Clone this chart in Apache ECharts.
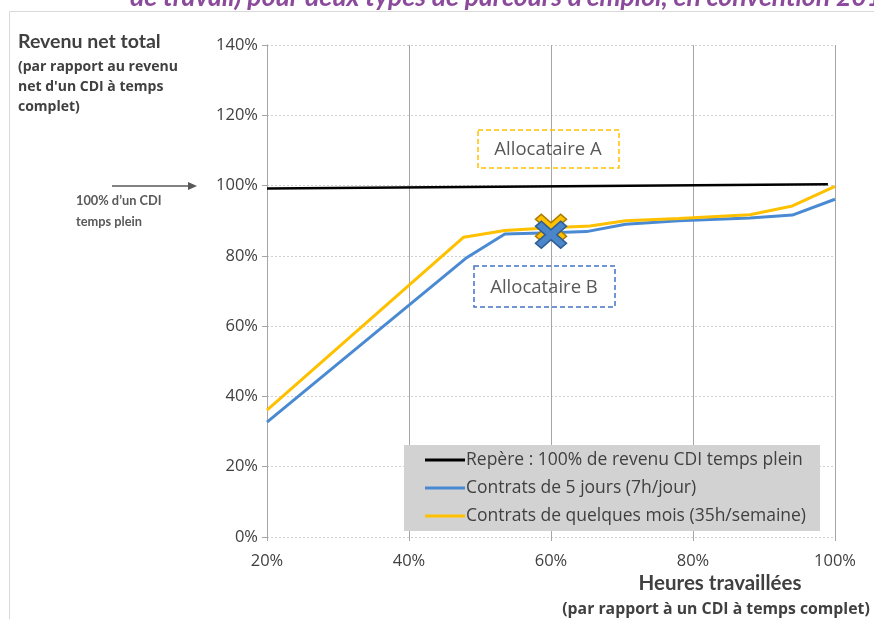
<!DOCTYPE html>
<html>
<head>
<meta charset="utf-8">
<script src="https://cdn.jsdelivr.net/npm/echarts@6/dist/echarts.min.js"></script>
<style>
  html, body { margin: 0; padding: 0; background: #fff; }
  #chart { width: 874px; height: 619px; }
</style>
</head>
<body>
<div id="chart"></div>
<script>
// Heures travaillées (% d'un CDI temps complet) et revenu net total (% du revenu CDI)
const seriesNames = [
  'Repère : 100% de revenu CDI temps plein',
  'Contrats de 5 jours (7h/jour)',
  'Contrats de quelques mois (35h/semaine)'
];
const repereHours = [20, 99];
const repereIncome = [99.2, 100.4];
const joursHours = [20, 48, 53.5, 60, 65, 70.5, 78, 88, 94, 100];
const joursIncome = [32.7, 79.3, 86.2, 86.6, 86.9, 89.0, 90.0, 90.8, 91.6, 96.1];
const moisHours = [20, 47.7, 53.5, 60, 65.5, 70.5, 78, 88, 94, 100];
const moisIncome = [36.1, 85.3, 87.2, 88.0, 88.5, 90.0, 90.6, 91.7, 94.2, 99.8];
// Allocataires A et B (60% d'heures travaillées)
const allocataireHours = [60, 60];
const allocataireIncome = [88.0, 86.0];
const xTicks = [20, 40, 60, 80, 100];
const yTicks = [0, 20, 40, 60, 80, 100, 120, 140];

const pair = (xs, ys) => xs.map((x, i) => [x, ys[i]]);
const SANS = '"Open Sans", sans-serif';
const NARROW = 'Lato, sans-serif';
const GREY = '#404040';
const CROSS = 'path://M0,3 L3,0 L8,5 L13,0 L16,3 L11,8 L16,13 L13,16 L8,11 L3,16 L0,13 L5,8 Z';

const chart = echarts.init(document.getElementById('chart'), null, { renderer: 'canvas' });

chart.setOption({
  backgroundColor: '#fff',
  animation: false,
  grid: { left: 267, right: 39, top: 45, bottom: 82, containLabel: false },
  xAxis: {
    type: 'value', min: xTicks[0], max: xTicks[xTicks.length - 1], interval: 20,
    axisLine: { show: false },
    axisTick: { show: true, length: 4, lineStyle: { color: '#a6a6a6' } },
    axisLabel: { formatter: v => v + '%', color: GREY, fontSize: 16.5, fontFamily: SANS, margin: 16 },
    splitLine: { show: true, lineStyle: { color: '#a6a6a6', width: 1 } }
  },
  yAxis: {
    type: 'value', min: yTicks[0], max: yTicks[yTicks.length - 1], interval: 20,
    axisLine: { show: true, lineStyle: { color: '#a6a6a6' } },
    axisTick: { show: true, length: 5, lineStyle: { color: '#a6a6a6' } },
    axisLabel: { formatter: v => v + '%', color: GREY, fontSize: 16.5, fontFamily: SANS, margin: 9 },
    splitLine: { show: true, lineStyle: { color: '#d0d0d0', type: [2, 2], width: 1 } }
  },
  legend: {
    orient: 'vertical', left: 404, top: 445,
    backgroundColor: '#d2d2d2',
    padding: [6, 14, 6, 21],
    itemGap: 10, itemWidth: 40, itemHeight: 3,
    icon: 'rect',
    textStyle: { color: GREY, fontSize: 17.5, fontFamily: SANS, lineHeight: 18, padding: [0, 0, 0, -4] },
    data: seriesNames
  },
  series: [
    { name: seriesNames[0], type: 'line', data: pair(repereHours, repereIncome),
      symbol: 'none', lineStyle: { color: '#000', width: 2.5 }, itemStyle: { color: '#000' }, z: 3 },
    { name: seriesNames[1], type: 'line', data: pair(joursHours, joursIncome),
      symbol: 'none', lineStyle: { color: '#4a8ad3', width: 3 }, itemStyle: { color: '#4a8ad3' }, z: 3 },
    { name: seriesNames[2], type: 'line', data: pair(moisHours, moisIncome),
      symbol: 'none', lineStyle: { color: '#ffc000', width: 3 }, itemStyle: { color: '#ffc000' }, z: 4 },
    { name: 'Allocataire A', type: 'scatter', data: [[allocataireHours[0], allocataireIncome[0]]],
      symbol: CROSS, symbolSize: [31, 27],
      itemStyle: { color: '#ffc000', borderColor: '#a87c00', borderWidth: 1.5, opacity: 1 }, z: 5 },
    { name: 'Allocataire B', type: 'scatter', data: [[allocataireHours[1], allocataireIncome[1]]],
      symbol: CROSS, symbolSize: [31, 27],
      itemStyle: { color: '#4a86c8', borderColor: '#2e5c94', borderWidth: 1.5, opacity: 1 }, z: 6 }
  ],
  graphic: [
    // titre (partiellement visible en haut)
    { type: 'text', x: 130, y: 11, z: 10,
      style: { text: "de travail) pour deux types de parcours d'emploi, en convention 2017",
               fill: '#8b4a9b', font: 'italic bold 26.5px ' + NARROW, verticalAlign: 'bottom' } },
    // cadre du graphique
    { type: 'polyline', z: 1, shape: { points: [[9.5, 619], [9.5, 11.5], [874, 11.5]] },
      style: { stroke: '#d9d9d9', lineWidth: 1, fill: null } },
    // titre de l'axe vertical
    { type: 'text', left: 18, top: 32,
      style: { text: 'Revenu net total', fill: GREY, font: 'bold 19.5px ' + NARROW } },
    { type: 'text', left: 18, top: 57,
      style: { text: "(par rapport au revenu\nnet d'un CDI à temps\ncomplet)", fill: GREY,
               font: 'bold 14px ' + SANS, lineHeight: 20 } },
    // repère 100%
    { type: 'line', shape: { x1: 112, y1: 186, x2: 189, y2: 186 },
      style: { stroke: '#595959', lineWidth: 1.5 } },
    { type: 'polygon', shape: { points: [[188, 182], [197, 186], [188, 190]] },
      style: { fill: '#595959' } },
    { type: 'text', left: 76, top: 190,
      style: { text: "100% d’un CDI\ntemps plein", fill: '#595959', font: 'bold 12.8px ' + NARROW, lineHeight: 21 } },
    // encadrés allocataires
    { type: 'rect', shape: { x: 478, y: 130, width: 141, height: 38 },
      style: { fill: 'rgba(255,255,255,0)', stroke: '#ffc000', lineWidth: 1.5, lineDash: [5, 3] }, z: 5 },
    { type: 'text', x: 548, y: 150, z: 6,
      style: { text: 'Allocataire A', fill: '#595959', font: '18.5px ' + SANS, align: 'center', verticalAlign: 'middle' } },
    { type: 'rect', shape: { x: 474, y: 266, width: 141, height: 41 },
      style: { fill: 'rgba(255,255,255,0)', stroke: '#4472c4', lineWidth: 1.5, lineDash: [5, 3] }, z: 5 },
    { type: 'text', x: 544, y: 288, z: 6,
      style: { text: 'Allocataire B', fill: '#595959', font: '18.5px ' + SANS, align: 'center', verticalAlign: 'middle' } },
    // titre de l'axe horizontal
    { type: 'text', x: 720, y: 583,
      style: { text: 'Heures travaillées', fill: GREY, font: 'bold 20.5px ' + NARROW, align: 'center', verticalAlign: 'middle' } },
    { type: 'text', x: 716, y: 609,
      style: { text: '(par rapport à un CDI à temps complet)', fill: GREY, font: 'bold 15.8px ' + SANS, align: 'center', verticalAlign: 'middle' } }
  ]
});
</script>
</body>
</html>
